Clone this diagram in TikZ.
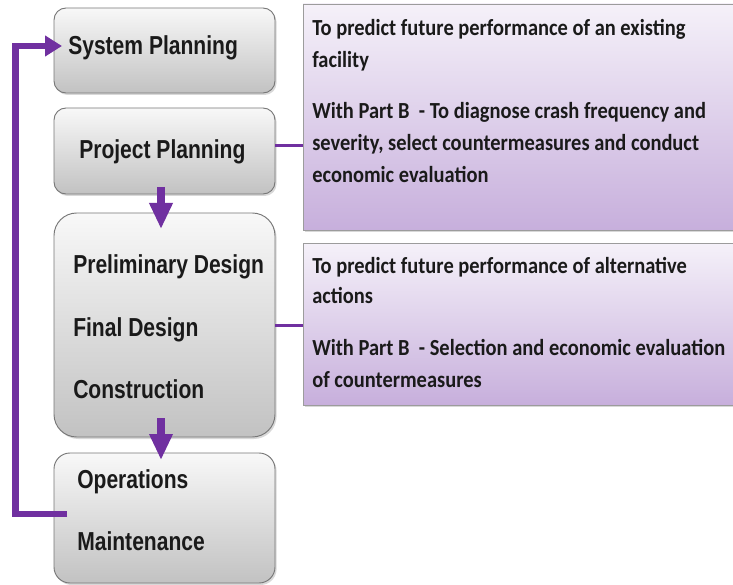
\documentclass[tikz,border=0pt]{standalone}
\usepackage{fontspec}
\usetikzlibrary{arrows.meta,shadows}
\newfontfamily\leftfont{Liberation Sans Bold}[FakeStretch=0.81]
\newfontfamily\rightfont{Carlito Bold}[FakeStretch=0.89]
\definecolor{boxtop}{HTML}{F8F8F8}
\definecolor{boxbot}{HTML}{C2C2C2}
\definecolor{boxline}{HTML}{777777}
\definecolor{ptop}{HTML}{F5F1F9}
\definecolor{pbot}{HTML}{C7AFDC}
\definecolor{pline}{HTML}{9C9C9C}
\definecolor{arrowc}{HTML}{7030A0}
\definecolor{textc}{HTML}{1A1A1A}
\begin{document}
\begin{tikzpicture}[x=0.75pt,y=-0.75pt,
  graybox/.style={draw=boxline, line width=0.7pt, top color=boxtop, bottom color=boxbot,
    minimum width=165.75pt, inner sep=0pt,
    drop shadow={shadow xshift=1.2pt,shadow yshift=-1.5pt,opacity=0.3}},
  purplebox/.style={draw=pline, line width=0.7pt, top color=ptop, bottom color=pbot,
    minimum width=327.75pt, inner sep=0pt,
    drop shadow={shadow xshift=1.2pt,shadow yshift=-1.5pt,opacity=0.3}},
  lt/.style={font=\leftfont\fontsize{19.5}{22}\selectfont, text=textc, inner sep=0pt, anchor=base west},
  rt/.style={font=\rightfont\fontsize{17.25}{20}\selectfont, text=textc, inner sep=0pt, anchor=base west},
  downarr/.style={draw=arrowc, line width=6pt, -{Triangle[length=19.5pt,width=16.5pt]}},
  looparr/.style={draw=arrowc, line width=5pt, line join=miter, -{Triangle[length=12.75pt,width=15pt]}},
  conn/.style={draw=arrowc, line width=2.25pt}
]
\useasboundingbox (0,0) rectangle (733,585);
\fill[white] (0,0) rectangle (733,585);

% gray boxes
\node[graybox, rounded corners=9pt, minimum height=63.75pt] (sys) at (164.5,50.5) {};
\node[graybox, rounded corners=9pt, minimum height=64.5pt] (proj) at (164.5,151) {};
\node[graybox, rounded corners=17pt, minimum height=168pt] (prel) at (164.5,325) {};
\node[graybox, rounded corners=12pt, minimum height=97.5pt] (ops) at (164.5,518) {};

% purple boxes
\node[purplebox, minimum height=169.5pt] (p1) at (521.5,117) {};
\node[purplebox, minimum height=121.5pt] (p2) at (521.5,324) {};

% left texts
\node[lt] (tsys) at (68,54.5) {System Planning};
\node[lt] (tproj) at (79,159) {Project Planning};
\node[lt] (tprel) at (73,273) {Preliminary Design};
\node[lt] (tfin) at (73,336) {Final Design};
\node[lt] (tcon) at (73,398) {Construction};
\node[lt] (tops) at (77,488) {Operations};
\node[lt] (tmai) at (77,550) {Maintenance};

% right texts
\node[rt] (r1a) at (312,36) {To predict future performance of an existing};
\node[rt] (r1b) at (312,68) {facility};
\node[rt] (r1c) at (312,119) {With Part B\ \ - To diagnose crash frequency and};
\node[rt] (r1d) at (312,151) {severity, select countermeasures and conduct};
\node[rt] (r1e) at (312,183) {economic evaluation};
\node[rt] (r2a) at (312,273) {To predict future performance of alternative};
\node[rt] (r2b) at (312,303) {actions};
\node[rt] (r2c) at (312,355) {With Part B\ \ - Selection and economic evaluation};
\node[rt] (r2d) at (312,387) {of countermeasures};

% connectors to purple boxes
\coordinate (c1) at ([yshift=3.75pt]proj.east);
\draw[conn] (c1) -- (c1 -| p1.west);
\draw[conn] (prel.east) -- (prel.east -| p2.west);

% down arrows
\coordinate (a1s) at (161,187);
\coordinate (a1e) at (161,229);
\draw[downarr] (a1s) -- (a1e);
\coordinate (a2s) at (161,418);
\coordinate (a2e) at (161,460);
\draw[downarr] (a2s) -- (a2e);

% feedback loop
\coordinate (l0) at (67,514);
\coordinate (l1) at (15.5,514);
\coordinate (l2) at (15.5,46);
\coordinate (ltip) at (62,46);
\draw[looparr] (l0) -- (l1) -- (l2) -- (ltip);
\end{tikzpicture}
\end{document}
